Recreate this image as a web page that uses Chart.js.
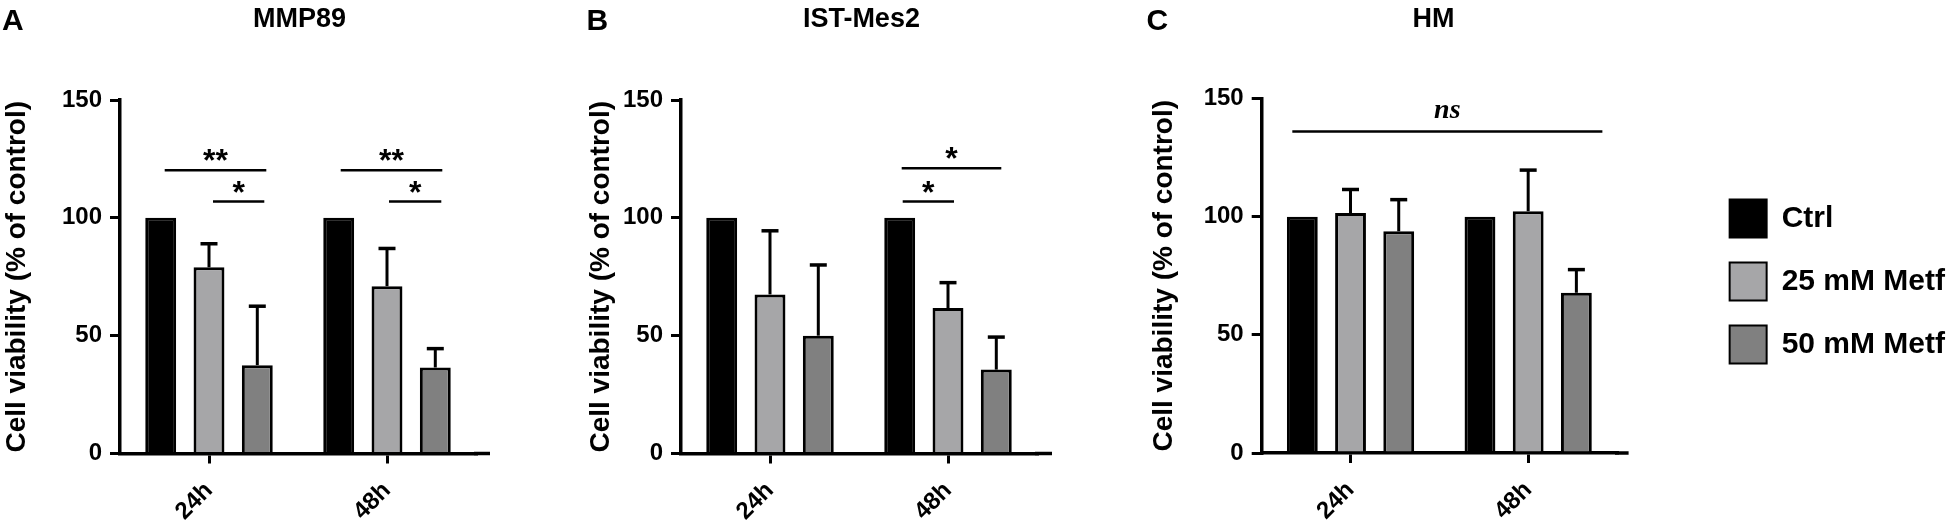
<!DOCTYPE html>
<html lang="en">
<head>
<meta charset="UTF-8" />
<title>Cell viability</title>
<style>
  html, body { margin: 0; padding: 0; background: #fff; overflow: hidden; }
  body { position: relative; width: 1955px; height: 525px; }
  canvas { position: absolute; top: 0; }
</style>
</head>
<body>
<canvas id="chartA" width="560" height="525" style="left:0px"></canvas>
<canvas id="chartB" width="536" height="525" style="left:584px"></canvas>
<canvas id="chartC" width="560" height="525" style="left:1140px"></canvas>
<canvas id="legendChart" width="555" height="525" style="left:1400px"></canvas>

<script src="https://cdn.jsdelivr.net/npm/chart.js@4/dist/chart.umd.min.js"></script>
<script>
const timepoints = ["24h", "48h"];
const seriesNames = ["Ctrl", "25 mM Metf", "50 mM Metf"];
const seriesColors = ["#000000", "#a6a6a8", "#808080"];
const yTitle = "Cell viability (% of control)";

// A - MMP89
const mmpCtrl = [100, 100];
const mmp25 = [79, 71];
const mmp50 = [37.5, 36.5];
const mmpErr25 = [10, 16];
const mmpErr50 = [25, 8];
const mmpSig = [
  { from: [0, 0], to: [0, 2], value: 120.2, label: "**", dx: [4, 9] },
  { from: [0, 1], to: [0, 2], value: 106.9, label: "*", dx: [4, 7] },
  { from: [1, 0], to: [1, 2], value: 120.2, label: "**", dx: [2, 7] },
  { from: [1, 1], to: [1, 2], value: 106.9, label: "*", dx: [2, 6] }
];

// B - IST-Mes2
const istCtrl = [100, 100];
const ist25 = [67.5, 61.7];
const ist50 = [50, 35.6];
const istErr25 = [27, 10.8];
const istErr50 = [30, 13.8];
const istSig = [
  { from: [1, 0], to: [1, 2], value: 121, label: "*", dx: [2, 5] },
  { from: [1, 0], to: [1, 1], value: 106.9, label: "*", dx: [3, 6] }
];

// C - HM
const hmCtrl = [100, 100];
const hm25 = [101.5, 102.3];
const hm50 = [93.8, 67.8];
const hmErr25 = [10, 17.4];
const hmErr50 = [13.4, 9.8];
const hmSig = [
  { from: [0, 0], to: [1, 2], value: 136, label: "ns", dx: [-10, 26], serif: true }
];

Chart.defaults.font.family = "'Liberation Sans', Arial, sans-serif";
Chart.defaults.color = "#000";

// error bars (upward only), significance lines, panel letters and titles
const annotate = {
  id: "annotate",
  afterDatasetsDraw(chart, args, o) {
    const ctx = chart.ctx;
    const y = chart.scales.y;
    ctx.save();
    ctx.strokeStyle = "#000";
    ctx.fillStyle = "#000";
    o.errors.forEach((errs, di) => {
      if (!errs) return;
      chart.getDatasetMeta(di).data.forEach((bar, i) => {
        const v = chart.data.datasets[di].data[i];
        const top = y.getPixelForValue(v + errs[i]);
        ctx.lineWidth = 3;
        ctx.beginPath();
        ctx.moveTo(bar.x, bar.y);
        ctx.lineTo(bar.x, top);
        ctx.stroke();
        ctx.lineWidth = 3.5;
        ctx.beginPath();
        ctx.moveTo(bar.x - 8.5, top);
        ctx.lineTo(bar.x + 8.5, top);
        ctx.stroke();
      });
    });
    o.sig.forEach(s => {
      const x1 = chart.getDatasetMeta(s.from[1]).data[s.from[0]].x + s.dx[0];
      const x2 = chart.getDatasetMeta(s.to[1]).data[s.to[0]].x + s.dx[1];
      const ly = y.getPixelForValue(s.value);
      ctx.lineWidth = 2.5;
      ctx.beginPath();
      ctx.moveTo(x1, ly);
      ctx.lineTo(x2, ly);
      ctx.stroke();
      ctx.textAlign = "center";
      ctx.textBaseline = "alphabetic";
      if (s.serif) {
        ctx.font = "italic bold 28px 'Liberation Serif', 'Times New Roman', serif";
        ctx.fillText(s.label, (x1 + x2) / 2, ly - 14);
      } else {
        ctx.font = "bold 32px 'Liberation Sans', Arial, sans-serif";
        ctx.fillText(s.label, (x1 + x2) / 2, ly + 1);
      }
    });
    ctx.restore();
  },
  afterDraw(chart, args, o) {
    const ctx = chart.ctx;
    const a = chart.chartArea;
    ctx.save();
    // x axis line runs a little past the last category
    ctx.strokeStyle = "#000";
    ctx.lineWidth = 3.5;
    ctx.beginPath();
    ctx.moveTo(a.right - 2, a.bottom);
    ctx.lineTo(a.right + o.axisExtra, a.bottom);
    ctx.stroke();
    ctx.fillStyle = "#000";
    ctx.textBaseline = "alphabetic";
    ctx.textAlign = "left";
    ctx.font = "bold 30px 'Liberation Sans', Arial, sans-serif";
    ctx.fillText(o.letter, o.letterX, 30);
    ctx.textAlign = "center";
    ctx.font = "bold 27px 'Liberation Sans', Arial, sans-serif";
    ctx.fillText(o.title, o.titleX, 27);
    ctx.restore();
  }
};

function makePanel(p) {
  const canvas = document.getElementById(p.id);
  const w = canvas.width;
  const h = canvas.height;
  return new Chart(canvas, {
    type: "bar",
    data: {
      labels: timepoints,
      datasets: p.values.map((vals, i) => ({
        label: seriesNames[i],
        data: vals,
        backgroundColor: seriesColors[i],
        borderColor: "#000",
        borderWidth: 3,
        barPercentage: 0.64,
        categoryPercentage: 0.814
      }))
    },
    options: {
      responsive: false,
      animation: false,
      layout: { padding: { left: 0, top: p.top, right: w - (p.chartRight - p.left), bottom: 0 } },
      scales: {
        x: {
          offset: true,
          border: { display: true, color: "#000", width: 3.5 },
          grid: { display: true, offset: false, drawOnChartArea: false, drawTicks: true, tickLength: 10, lineWidth: 3, color: "#000" },
          ticks: { color: "#000", font: { size: 24, weight: "bold" }, minRotation: 45, maxRotation: 45, padding: 13 },
          afterFit: s => { s.height = h - p.bottom; }
        },
        y: {
          min: 0,
          max: 150,
          border: { display: true, color: "#000", width: 3.5 },
          grid: { display: true, drawOnChartArea: false, drawTicks: true, tickLength: 10, lineWidth: 3, color: "#000" },
          ticks: { stepSize: 50, color: "#000", font: { size: 24, weight: "bold" }, padding: 8 },
          title: { display: true, text: yTitle, color: "#000", font: { size: 28, weight: "bold" }, padding: { top: p.titlePad, bottom: 0 } },
          afterFit: s => { s.width = p.chartLeft - p.left; }
        }
      },
      plugins: {
        legend: { display: false },
        tooltip: { enabled: false },
        annotate: {
          errors: [null, p.err25, p.err50],
          sig: p.sig,
          axisExtra: p.axisEnd - p.chartRight,
          letter: p.letter,
          letterX: p.letterX - p.left,
          title: p.title,
          titleX: p.titleX - p.left
        }
      }
    },
    plugins: [annotate]
  });
}

makePanel({
  id: "chartA", left: 0, chartLeft: 120, chartRight: 476, axisEnd: 490, top: 100, bottom: 453.5, titlePad: 0,
  values: [mmpCtrl, mmp25, mmp50], err25: mmpErr25, err50: mmpErr50, sig: mmpSig,
  letter: "A", letterX: 2, title: "MMP89", titleX: 299.5
});
makePanel({
  id: "chartB", left: 584, chartLeft: 681, chartRight: 1037, axisEnd: 1052, top: 100, bottom: 453.5, titlePad: 0,
  values: [istCtrl, ist25, ist50], err25: istErr25, err50: istErr50, sig: istSig,
  letter: "B", letterX: 586.5, title: "IST-Mes2", titleX: 861.4
});
makePanel({
  id: "chartC", left: 1140, chartLeft: 1261.7, chartRight: 1617, axisEnd: 1628.6, top: 98.5, bottom: 453, titlePad: 7.5,
  values: [hmCtrl, hm25, hm50], err25: hmErr25, err50: hmErr50, sig: hmSig,
  letter: "C", letterX: 1146.6, title: "HM", titleX: 1433.5
});

// shared legend, on a transparent canvas laid over the right side
new Chart(document.getElementById("legendChart"), {
  type: "bar",
  data: {
    labels: [],
    datasets: seriesNames.map((n, i) => ({
      label: n,
      data: [],
      backgroundColor: seriesColors[i],
      borderColor: "#000",
      borderWidth: 2
    }))
  },
  options: {
    responsive: false,
    animation: false,
    layout: { padding: { right: 0, top: 40, bottom: 2 } },
    scales: { x: { display: false }, y: { display: false } },
    plugins: {
      tooltip: { enabled: false },
      legend: {
        position: "right",
        align: "center",
        labels: { boxWidth: 37, boxHeight: 38, padding: 25, color: "#000", font: { size: 30, weight: "bold" } }
      }
    }
  }
});
</script>
</body>
</html>
